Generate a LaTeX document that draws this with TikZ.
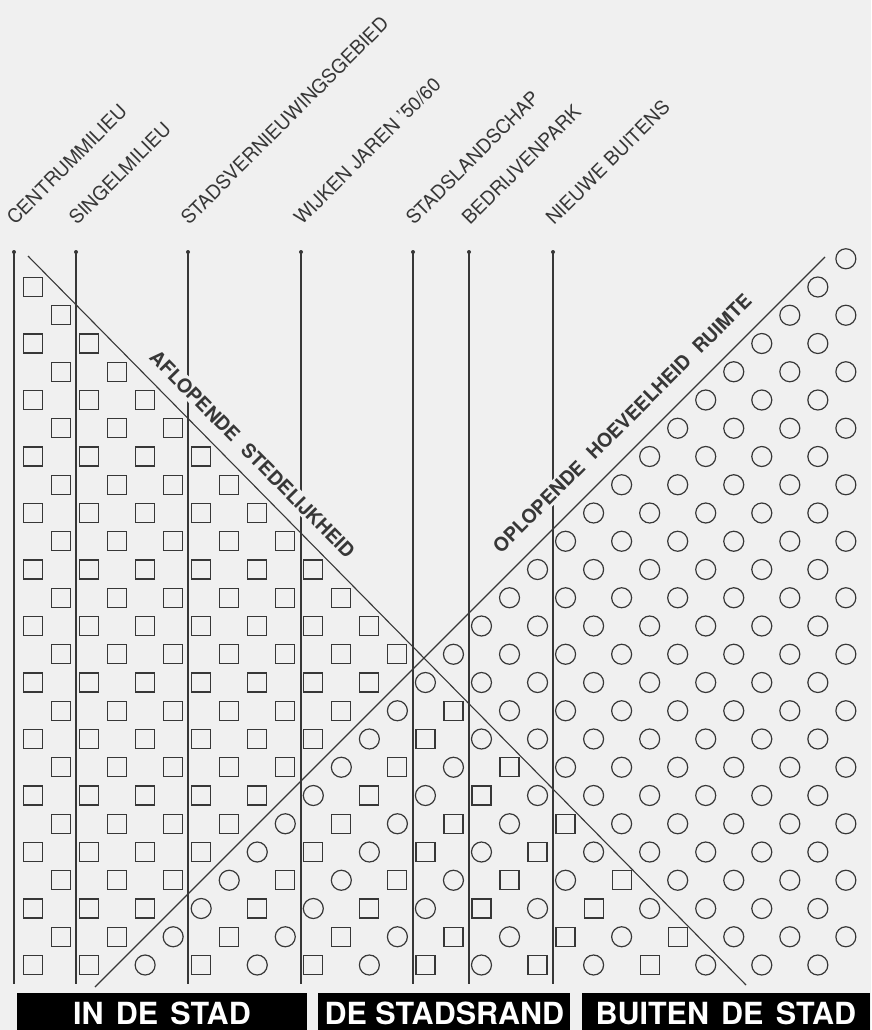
\documentclass[tikz,border=0pt]{standalone}
\usepackage{xcolor}
\usepackage{fontspec}
\setmainfont{TeX Gyre Heros}
\usepackage{tikz}
\usetikzlibrary{shapes,arrows,positioning}
\definecolor{paper}{RGB}{240,240,240}
\definecolor{ink}{RGB}{55,55,55}

\begin{document}
\begin{tikzpicture}[x=1pt, y=-1pt]
    % Define styles
    \tikzstyle{sqcell} = [rectangle, draw=ink, line width=1.2pt, minimum size=19pt, inner sep=0pt]
    \tikzstyle{cicell} = [circle, draw=ink, line width=1.2pt, minimum size=20pt, inner sep=0pt]
    \tikzstyle{divider} = [draw=ink, line width=1.1pt]
    \tikzstyle{milieu} = [rotate=45, anchor=base west, inner sep=0pt, text=ink, font=\fontsize{19.2}{21}\selectfont]
    \tikzstyle{trend} = [sloped, inner sep=2pt, fill=paper, text=ink, font=\fontsize{19.3}{21}\selectfont\bfseries]
    \tikzstyle{zonebar} = [rectangle, fill=black, text=white, minimum height=41pt, inner sep=0pt, font=\fontsize{30.5}{33}\selectfont\bfseries]

    \useasboundingbox (0,0) rectangle (871,1030);
    \fill[paper] (0,0) rectangle (871,1030);

    % Cells
    \foreach \n in {-1,...,24} {
        \foreach \c in {0,...,29} {
            \pgfmathtruncatemacro{\s}{\c+\n}
            \pgfmathtruncatemacro{\d}{\c-\n}
            \pgfmathtruncatemacro{\m}{mod(\s+40,4)}
            \ifodd\s\relax\else
                \ifnum\d<1
                    \ifnum\s<27
                        \node[sqcell] (cell\c-\n) at ({33+28.03*\c},{287+28.25*\n}) {};
                    \else
                        \ifnum\m=0
                            \node[cicell] (cell\c-\n) at ({33+28.03*\c},{287+28.25*\n}) {};
                        \else
                            \node[sqcell] (cell\c-\n) at ({33+28.03*\c},{287+28.25*\n}) {};
                        \fi
                    \fi
                \else
                    \ifnum\s>27
                        \node[cicell] (cell\c-\n) at ({33+28.03*\c},{287+28.25*\n}) {};
                    \fi
                \fi
            \fi
        }
    }

    % Milieus
    \foreach \i/\x/\txt in {1/14/CENTRUMMILIEU, 2/76/SINGELMILIEU, 3/188/STADSVERNIEUWINGSGEBIED, 4/301/{WIJKEN JAREN '50/60}, 5/413/STADSLANDSCHAP, 6/469/BEDRIJVENPARK, 7/553/NIEUWE BUITENS} {
        \coordinate (top\i) at (\x,252);
        \coordinate (bot\i) at (\x,984);
        \draw[divider] (top\i) -- (bot\i);
        \fill[ink] (top\i) circle (2);
        \node[xshift=1pt, yshift=26pt, milieu] (lab\i) at (top\i) {\txt};
    }

    % Trends
    \coordinate (desc-a) at (28,256);
    \coordinate (desc-b) at (746,985);
    \coordinate (asc-a) at (95,987);
    \coordinate (asc-b) at (825,257);
    \draw[divider] (desc-a) -- node[trend, above=11pt, pos=0.292] (lab-desc) {AFLOPENDE\hspace{0.6em}STEDELIJKHEID} (desc-b);
    \draw[divider] (asc-a) -- node[trend, above=16pt, pos=0.747] (lab-asc) {OPLOPENDE\hspace{0.6em}HOEVEELHEID\hspace{0.6em}RUIMTE} (asc-b);

    % Zones
    \node[zonebar, minimum width=290pt] (instad) at (162,1013.5) {IN\hspace{0.4em}DE\hspace{0.4em}STAD};
    \node[zonebar, minimum width=252pt, right=11pt of instad] (stadsrand) {DE STADSRAND};
    \node[zonebar, minimum width=288pt, right=11pt of stadsrand] (buiten) {BUITEN\hspace{0.4em}DE\hspace{0.4em}STAD};
\end{tikzpicture}
\end{document}
